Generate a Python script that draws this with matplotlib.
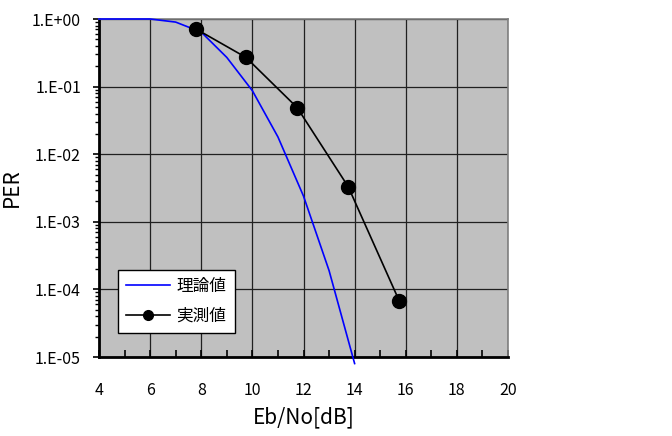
import matplotlib
matplotlib.use("Agg")
import matplotlib.pyplot as plt
from matplotlib.ticker import FixedLocator, LogLocator, NullFormatter

plt.rcParams['font.family'] = ['Noto Sans CJK JP', 'DejaVu Sans']

# 理論値 (theory)
x_theory = [4, 5, 6, 7, 8, 9, 10, 11, 12, 13, 14]
per_theory = [1.0, 1.0, 1.0, 0.90, 0.64, 0.27, 0.087, 0.018, 0.0024, 1.9e-4, 8e-6]

# 実測値 (measured)
x_meas = [7.8, 9.75, 11.75, 13.75, 15.75]
per_meas = [0.71, 0.27, 0.049, 0.0033, 6.7e-5]

y_ticks = [1e0, 1e-1, 1e-2, 1e-3, 1e-4, 1e-5]
y_labels = ["1.E+00", "1.E-01", "1.E-02", "1.E-03", "1.E-04", "1.E-05"]
x_ticks = [4, 6, 8, 10, 12, 14, 16, 18, 20]

fig = plt.figure(figsize=(6.72, 4.36), dpi=100)
ax = fig.add_axes([99 / 672, 1 - 357 / 436, 409 / 672, 338 / 436])
ax.set_facecolor("#c0c0c0")

ax.plot(x_theory, per_theory, color="#0000ff", lw=1.2, clip_on=False, zorder=3,
        label="理論値")
ax.plot(x_meas, per_meas, color="black", lw=1.2, marker="o", ms=10,
        zorder=4, label="実測値")

ax.set_yscale("log")
ax.set_xlim(4, 20)
ax.set_ylim(1e-5, 1)
ax.set_xticks(x_ticks)
ax.xaxis.set_minor_locator(FixedLocator(range(4, 21)))
ax.set_yticks(y_ticks)
ax.set_yticklabels(y_labels)
ax.yaxis.set_minor_locator(LogLocator(base=10, subs=range(2, 10), numticks=20))
ax.yaxis.set_minor_formatter(NullFormatter())

ax.grid(True, which="major", color="#202020", lw=0.9)
ax.set_axisbelow(True)

ax.tick_params(axis="x", which="both", direction="in", length=5, width=1.2,
               labelsize=11.5, pad=18)
ax.tick_params(axis="y", which="major", direction="out", length=4, width=1.2,
               labelsize=11.5, pad=9)
ax.tick_params(axis="y", which="minor", direction="out", length=3, width=1)

for side in ["left", "bottom"]:
    ax.spines[side].set_linewidth(2)
    ax.spines[side].set_color("black")
for side in ["top", "right"]:
    ax.spines[side].set_linewidth(1.2)
    ax.spines[side].set_color("#808080")

ax.set_xlabel("Eb/No[dB]", fontsize=15)
ax.set_ylabel("PER", fontsize=15)
ax.xaxis.set_label_coords(0.5, -0.145)
ax.yaxis.set_label_coords(-0.185, 0.5)

leg = ax.legend(loc="lower left", bbox_to_anchor=(19 / 409, 24 / 338),
                borderaxespad=0, fontsize=12, frameon=True, fancybox=False,
                handlelength=2.6, handletextpad=0.4, borderpad=0.5,
                labelspacing=0.75, markerscale=0.7)
leg.get_frame().set_facecolor("white")
leg.get_frame().set_edgecolor("black")
leg.get_frame().set_alpha(1)

fig.savefig("out.png", dpi=100)
